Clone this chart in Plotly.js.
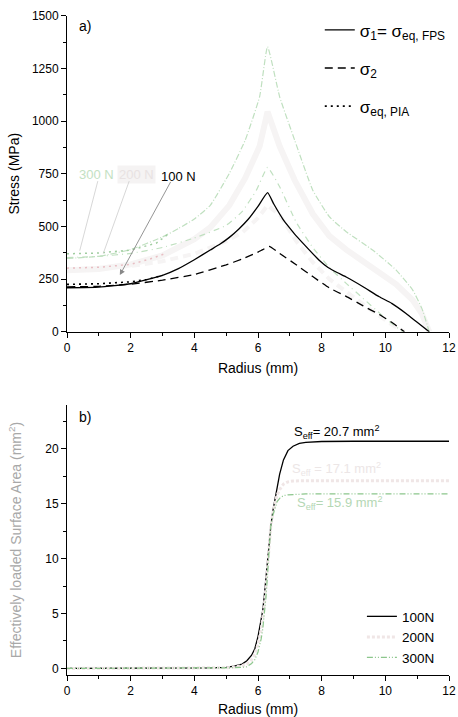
<!DOCTYPE html>
<html><head><meta charset="utf-8">
<script src="https://cdn.plot.ly/plotly-3.0.1.min.js"></script>
<style>html,body{margin:0;padding:0;background:#fff}#chart{width:458px;height:717px}</style>
</head><body><div id="chart"></div>
<script>
// ---- Panel a) stress vs radius ----
const rS1_100 = [0,1,2,3,3.5,4,4.5,4.8,5.1,5.4,5.7,6.0,6.3,6.5,6.78,7.0,7.2,7.6,7.93,8.2,8.5,8.77,9.3,9.81,10.2,10.65,11.0,11.38];
const s1_100  = [209,212,228,268,300,342,388,415,448,488,535,595,660,605,535,492,455,390,338,305,280,260,214,166,135,87,45,0];
const rS2_100 = [0,1,2,3,4,5,5.5,6,6.15,6.35,6.68,7.2,7.72,8.24,8.77,9.29,9.81,10.2,10.6];
const s2_100  = [213,216,226,245,272,318,345,378,390,405,372,318,262,208,168,124,82,45,0];
const rEq_100 = [0,1,2,2.5,3];
const eq_100  = [225,228,237,248,268];

const rS1_200 = [0,1,2,3,4,4.5,5.1,5.6,6.05,6.3,6.68,7.15,7.72,8.24,8.77,9.6,10.34,10.86,11.15,11.38];
const s1_200  = [292,298,320,362,440,495,600,730,880,1044,880,720,560,455,390,300,225,150,85,0];
const rS2_200 = [0,2,3,4,5,5.5,6,6.3,6.68,7.2,7.72,8.24,8.77,9.29,9.81,10.2,10.6];
const s2_200  = [295,312,335,370,430,470,540,600,555,430,330,250,190,130,75,35,0];
const rEq_200 = [0,1,2,2.6,3.1];
const eq_200  = [302,306,320,345,372];

const rS1_300 = [0,1,2,3,3.5,4,4.5,5.1,5.6,6.05,6.3,6.68,7.15,7.72,8.24,8.77,9.6,10.34,10.86,11.15,11.38];
const s1_300  = [348,358,390,450,490,535,600,752,910,1115,1353,1115,910,672,546,475,388,293,198,110,0];
const rS2_300 = [0,1,2,3,4,5,5.5,5.95,6.3,6.68,7.2,7.72,8.24,8.77,9.29,9.81,10.2,10.55];
const s2_300  = [352,358,372,400,445,505,570,672,780,688,520,400,305,230,160,90,40,0];
const rEq_300 = [0,1,2,2.8,3.2];
const eq_300  = [370,374,388,420,466];

// ---- Panel b) effectively loaded surface area ----
const rB = [0,1,2,3,4,4.5,5,5.25,5.5,5.65,5.8,5.9,6.0,6.1,6.15,6.2,6.25,6.3,6.35,6.4,6.47,6.55,6.6,6.68,6.8,6.94,7.1,7.3,7.5,8,9,10,11,12];
const seff100 = [0,0,0,0,0.02,0.05,0.1,0.2,0.4,0.7,1.2,1.8,2.9,4.3,5.3,6.7,8.3,10.0,11.6,12.9,14.4,15.8,16.6,17.7,19.0,19.85,20.25,20.5,20.6,20.68,20.7,20.7,20.7,20.7];
const seff200 = [0,0,0,0,0.01,0.03,0.06,0.12,0.25,0.4,0.8,1.3,2.2,3.5,4.5,5.8,7.4,9.3,11.3,12.9,14.2,15.3,15.8,16.3,16.8,17.0,17.08,17.1,17.1,17.1,17.1,17.1,17.1,17.1];
const seff300 = [0,0,0,0,0,0.01,0.03,0.06,0.1,0.15,0.45,0.8,1.5,2.7,3.6,4.8,6.5,8.6,11.2,12.9,14.0,14.9,15.2,15.5,15.75,15.82,15.86,15.88,15.9,15.9,15.9,15.9,15.9,15.9];

const stressNames = ['σ<sub>1</sub>= σ<sub>eq, FPS</sub>', 'σ<sub>2</sub>', 'σ<sub>eq, PIA</sub>'];
const loadNames = ['100N', '200N', '300N'];
const loadLabels = ['100 N', '200 N', '300 N'];
const seffLabels = ['S<sub>eff</sub>= 20.7 mm<sup>2</sup>', 'S<sub>eff</sub> = 17.1 mm<sup>2</sup>', 'S<sub>eff</sub>= 15.9 mm<sup>2</sup>'];

const FONT = 'Liberation Sans, Arial, sans-serif';
const pale = 'rgb(246,244,244)';
const palePink = 'rgb(232,190,195)';
const green = 'rgb(192,224,192)';
const greenB = 'rgb(140,198,140)';
const SM = {shape:'spline', smoothing:0.4};

const traces = [
  // 200 N (pale)
  {x:rS1_200, y:s1_200, mode:'lines', line:{color:pale, width:6}, showlegend:false, hoverinfo:'skip'},
  {x:rS2_200, y:s2_200, mode:'lines', line:{color:pale, width:4, dash:'8px,5px'}, showlegend:false, hoverinfo:'skip'},
  {x:rEq_200, y:eq_200, mode:'lines', line:{color:palePink, width:1.5, dash:'2px,4px'}, showlegend:false, hoverinfo:'skip'},
  // 300 N (green)
  {x:rS1_300, y:s1_300, mode:'lines', line:Object.assign({color:green, width:1.2, dash:'6px,2px,1px,2px'}, SM), showlegend:false, hoverinfo:'skip'},
  {x:rS2_300, y:s2_300, mode:'lines', line:Object.assign({color:green, width:1.2, dash:'6px,4px,1px,4px'}, SM), showlegend:false, hoverinfo:'skip'},
  {x:rEq_300, y:eq_300, mode:'lines', line:{color:'rgb(160,205,160)', width:1.5, dash:'2px,4px'}, showlegend:false, hoverinfo:'skip'},
  // 100 N (black) - legend
  {x:rS1_100, y:s1_100, mode:'lines', name:stressNames[0], legend:'legend', legendgroup:'a', line:Object.assign({color:'#000', width:1.3}, SM)},
  {x:rS2_100, y:s2_100, mode:'lines', name:stressNames[1], legend:'legend', legendgroup:'b', line:Object.assign({color:'#000', width:1.3, dash:'8px,5px'}, SM)},
  {x:rEq_100, y:eq_100, mode:'lines', name:stressNames[2], legend:'legend', legendgroup:'c', line:{color:'#000', width:1.6, dash:'2px,4px'}},
  // panel b
  {x:rB, y:seff100, xaxis:'x2', yaxis:'y2', mode:'lines', name:loadNames[0], legend:'legend2', line:{color:'#000', width:1.3}},
  {x:rB, y:seff200, xaxis:'x2', yaxis:'y2', mode:'lines', name:loadNames[1], legend:'legend2', line:{color:'rgb(240,230,230)', width:3, dash:'3px,2px'}},
  {x:rB, y:seff300, xaxis:'x2', yaxis:'y2', mode:'lines', name:loadNames[2], legend:'legend2', line:{color:greenB, width:1.2, dash:'6px,2px,1px,2px,1px,2px'}}
];

const axBase = {
  showline:true, linecolor:'#000', linewidth:1, showgrid:false, zeroline:false,
  ticks:'outside', ticklen:5, tickcolor:'#000', tickwidth:1,
  tickfont:{family:FONT, size:12, color:'#000'}, mirror:false
};

const layout = {
  width:458, height:717,
  margin:{l:67, r:8, t:15, b:42},
  paper_bgcolor:'#fff', plot_bgcolor:'#fff',
  font:{family:FONT, color:'#000'},
  xaxis: Object.assign({}, axBase, {domain:[0,1], anchor:'y', range:[0,12], dtick:2, tick0:0,
    minor:{dtick:1, ticks:'outside', ticklen:3, tickcolor:'#000', showgrid:false},
    title:{text:'Radius (mm)', font:{family:FONT, size:14}, standoff:8}}),
  yaxis: Object.assign({}, axBase, {domain:[0.520,0.999], anchor:'x', range:[0,1500], dtick:250, tick0:0,
    minor:{dtick:125, ticks:'outside', ticklen:3, tickcolor:'#000', showgrid:false},
    title:{text:'Stress (MPa)', font:{family:FONT, size:14}, standoff:8}}),
  xaxis2: Object.assign({}, axBase, {domain:[0,1], anchor:'y2', range:[0,12], dtick:2, tick0:0,
    minor:{dtick:1, ticks:'outside', ticklen:3, tickcolor:'#000', showgrid:false},
    title:{text:'Radius (mm)', font:{family:FONT, size:14}, standoff:8}}),
  yaxis2: Object.assign({}, axBase, {domain:[0,0.409], anchor:'x2', range:[-0.6,24], dtick:5, tick0:0,
    minor:{dtick:2.5, ticks:'outside', ticklen:3, tickcolor:'#000', showgrid:false},
    title:{text:'Effectively loaded Surface Area (mm<sup>2</sup>)', font:{family:FONT, size:14, color:'#a8a8a8'}, standoff:20}}),
  legend:{x:0.66, y:1.004, xanchor:'left', yanchor:'top', bgcolor:'rgba(0,0,0,0)', font:{family:FONT, size:17, color:'#000'}, tracegroupgap:13, itemwidth:30},
  legend2:{x:0.77, y:0.112, xanchor:'left', yanchor:'top', bgcolor:'rgba(0,0,0,0)', font:{family:FONT, size:13.5, color:'#000'}, tracegroupgap:0, itemwidth:30},
  showlegend:true,
  annotations:[
    {xref:'x', yref:'y', x:0.56, y:1451, text:'a)', showarrow:false, font:{family:FONT, size:14}},
    {xref:'x2', yref:'y2', x:0.56, y:22.9, text:'b)', showarrow:false, font:{family:FONT, size:14}},
    {xref:'x', yref:'y', x:0.93, y:744, text:loadLabels[2], showarrow:false, font:{family:FONT, size:13, color:'rgb(195,225,195)'}},
    {xref:'x', yref:'y', x:2.18, y:744, text:loadLabels[1], showarrow:false, bgcolor:'rgb(245,243,243)', font:{family:FONT, size:13, color:'rgb(232,226,226)'}},
    {xref:'x', yref:'y', x:3.49, y:739, text:loadLabels[0], showarrow:false, font:{family:FONT, size:13, color:'#000'}},
    {xref:'x', yref:'y', axref:'x', ayref:'y', x:0.40, y:385, ax:0.98, ay:722, text:'', showarrow:true, arrowhead:0, arrowwidth:0.8, arrowcolor:'rgb(205,205,205)'},
    {xref:'x', yref:'y', axref:'x', ayref:'y', x:1.14, y:372, ax:1.97, ay:722, text:'', showarrow:true, arrowhead:0, arrowwidth:0.8, arrowcolor:'rgb(205,205,205)'},
    {xref:'x', yref:'y', axref:'x', ayref:'y', x:1.66, y:269, ax:3.28, ay:718, text:'', showarrow:true, arrowhead:2, arrowsize:1.2, arrowwidth:0.9, arrowcolor:'#888'},
    {xref:'x2', yref:'y2', x:8.48, y:21.55, text:seffLabels[0], showarrow:false, font:{family:FONT, size:13, color:'#000'}},
    {xref:'x2', yref:'y2', x:8.48, y:18.2, text:seffLabels[1], showarrow:false, font:{family:FONT, size:13, color:'rgb(236,230,230)'}},
    {xref:'x2', yref:'y2', x:8.55, y:15.1, text:seffLabels[2], showarrow:false, font:{family:FONT, size:13, color:'rgb(180,215,180)'}}
  ]
};

Plotly.newPlot('chart', traces, layout, {displayModeBar:false, staticPlot:true});
</script>
</body></html>
